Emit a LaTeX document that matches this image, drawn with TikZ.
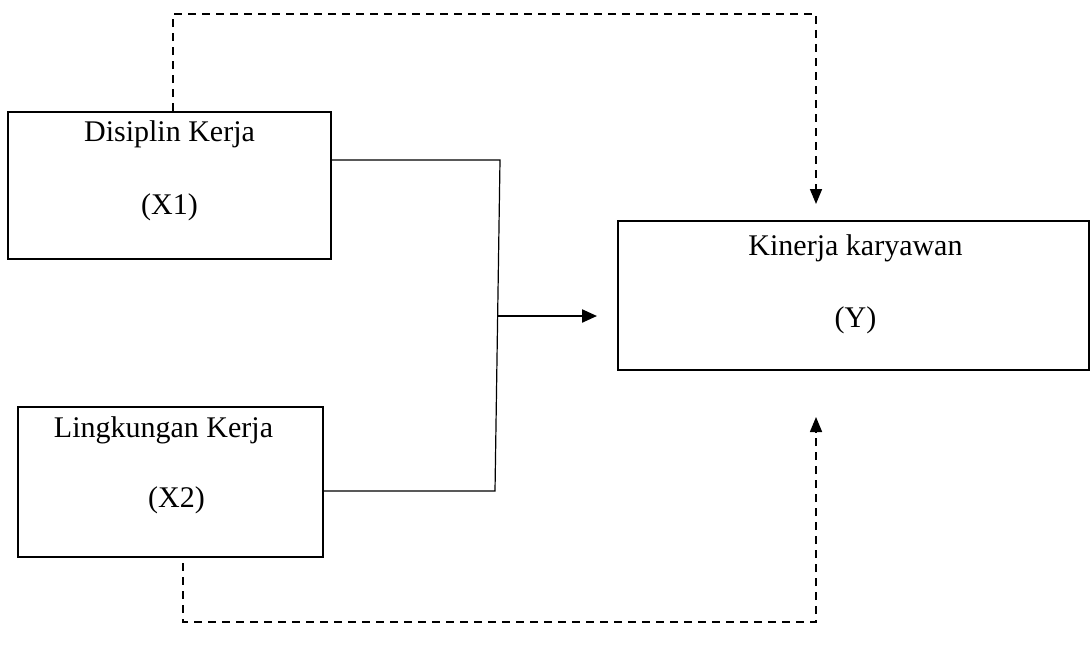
\documentclass[tikz,border=0pt]{standalone}
\usepackage{fontspec}
\setmainfont{Liberation Serif}
\usetikzlibrary{arrows.meta, calc}

\begin{document}
\begin{tikzpicture}[
    x=0.5pt, y=-0.5pt,
    varbox/.style={rectangle, draw, line width=1pt, inner sep=0pt},
    varname/.style={font=\fontsize{15}{18}\selectfont, anchor=base, inner sep=0pt},
    link/.style={line width=0.6pt},
    arrow/.style={-{Triangle[length=7.5pt,width=6.5pt]}, line width=1.1pt},
    dasharrow/.style={-{Triangle[length=7.5pt,width=6pt]}, line width=0.8pt, dash pattern=on 4pt off 3pt}
]
    \useasboundingbox (0,0) rectangle (1091,653);

    % Independent variables
    \node[varbox, minimum width=161.5pt, minimum height=73.5pt] (x1) at (169.5,185.5) {};
    \node[varname] (x1name) at ($(x1.north)+(0,30)$) {Disiplin Kerja};
    \node[varname] (x1tag) at ($(x1.north)+(0,103)$) {(X1)};

    \node[varbox, minimum width=152.5pt, minimum height=75pt] (x2) at (170.5,482) {};
    \node[varname] (x2name) at ($(x2.north)+(-7,31)$) {Lingkungan Kerja};
    \node[varname] (x2tag) at ($(x2.north)+(6,101)$) {(X2)};

    % Dependent variable
    \node[varbox, minimum width=235.5pt, minimum height=74.5pt] (y) at (853.5,295.5) {};
    \node[varname] (yname) at ($(y.north)+(2,35)$) {Kinerja karyawan};
    \node[varname] (ytag) at ($(y.north)+(2,107)$) {(Y)};

    % Simultaneous effect
    \coordinate (jtop) at (500,160);
    \coordinate (jbot) at (495,491);
    \coordinate (jmid) at (497,316);
    \draw[link] (x1.east |- jtop) -- (jtop) -- (jbot) -- (x2.east |- jbot);
    \draw[arrow, shorten >=10pt] (jmid) -- (y.west |- jmid);

    % Partial effects
    \coordinate (topr) at (816,14);
    \draw[dasharrow, shorten >=8pt] ([xshift=1.75pt]x1.north) |- (topr) -- (topr |- y.north);

    \coordinate (botr) at (816,622);
    \draw[dasharrow, shorten <=2.5pt, shorten >=23pt] ([xshift=6.25pt]x2.south) |- (botr) -- (botr |- y.south);

\end{tikzpicture}
\end{document}
